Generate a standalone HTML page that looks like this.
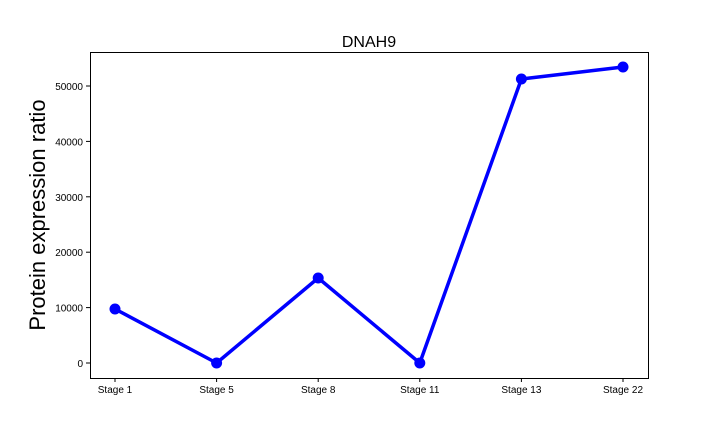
<!DOCTYPE html>
<html><head><meta charset="utf-8"><style>
body{margin:0;background:#fff;}
svg text{font-family:"Liberation Sans",sans-serif;}
</style></head><body>
<svg id="chart" width="720" height="432">
<text x="369" y="47" font-size="16" text-anchor="middle">DNAH9</text>
<text transform="translate(45,215) rotate(-90)" font-size="22" text-anchor="middle">Protein expression ratio</text>
<g id="ticks"></g>
<g id="marks"></g>
<rect x="90.5" y="52.5" width="558" height="326" fill="none" stroke="#000" stroke-width="1"/>
</svg>
<script>
const categories=["Stage 1","Stage 5","Stage 8","Stage 11","Stage 13","Stage 22"];
const values=[9750,0,15340,0,51260,53430];
const yTicks=[0,10000,20000,30000,40000,50000];
const ns="http://www.w3.org/2000/svg";
const X0=90,X1=648,pad=25;
function xs(i){return X0+pad+i*(X1-X0-2*pad)/(categories.length-1);}
function ys(v){return 363-v*(363-86)/50000;}
const tg=document.getElementById('ticks'),mg=document.getElementById('marks');
function mk(tag,attrs,parent){const e=document.createElementNS(ns,tag);for(const k in attrs)e.setAttribute(k,attrs[k]);parent.appendChild(e);return e;}
yTicks.forEach(t=>{
  const y=ys(t);
  const l=mk('line',{x1:86,x2:90,y1:y,y2:y,stroke:'#000'},tg);
  
  
  const tx=mk('text',{x:83,y:y+4,'font-size':10,'text-anchor':'end'},tg);
  tx.textContent=t;
  
  
});
categories.forEach((c,i)=>{
  const x=xs(i);
  const l=mk('line',{x1:x,x2:x,y1:378,y2:382,stroke:'#000'},tg);
  
  
  const tx=mk('text',{x:x,y:393,'font-size':10,'text-anchor':'middle'},tg);
  tx.textContent=c;
  
  
});
const pts=values.map((v,i)=>xs(i)+','+ys(v)).join(' ');
const pl=mk('polyline',{points:pts,fill:'none',stroke:'#0000ff','stroke-width':3.5,'stroke-linejoin':'round'},mg);


values.forEach((v,i)=>{
  const c=mk('circle',{cx:xs(i),cy:ys(v),r:5.5,fill:'#0000ff'},mg);
  
  
});
</script>
</body></html>
